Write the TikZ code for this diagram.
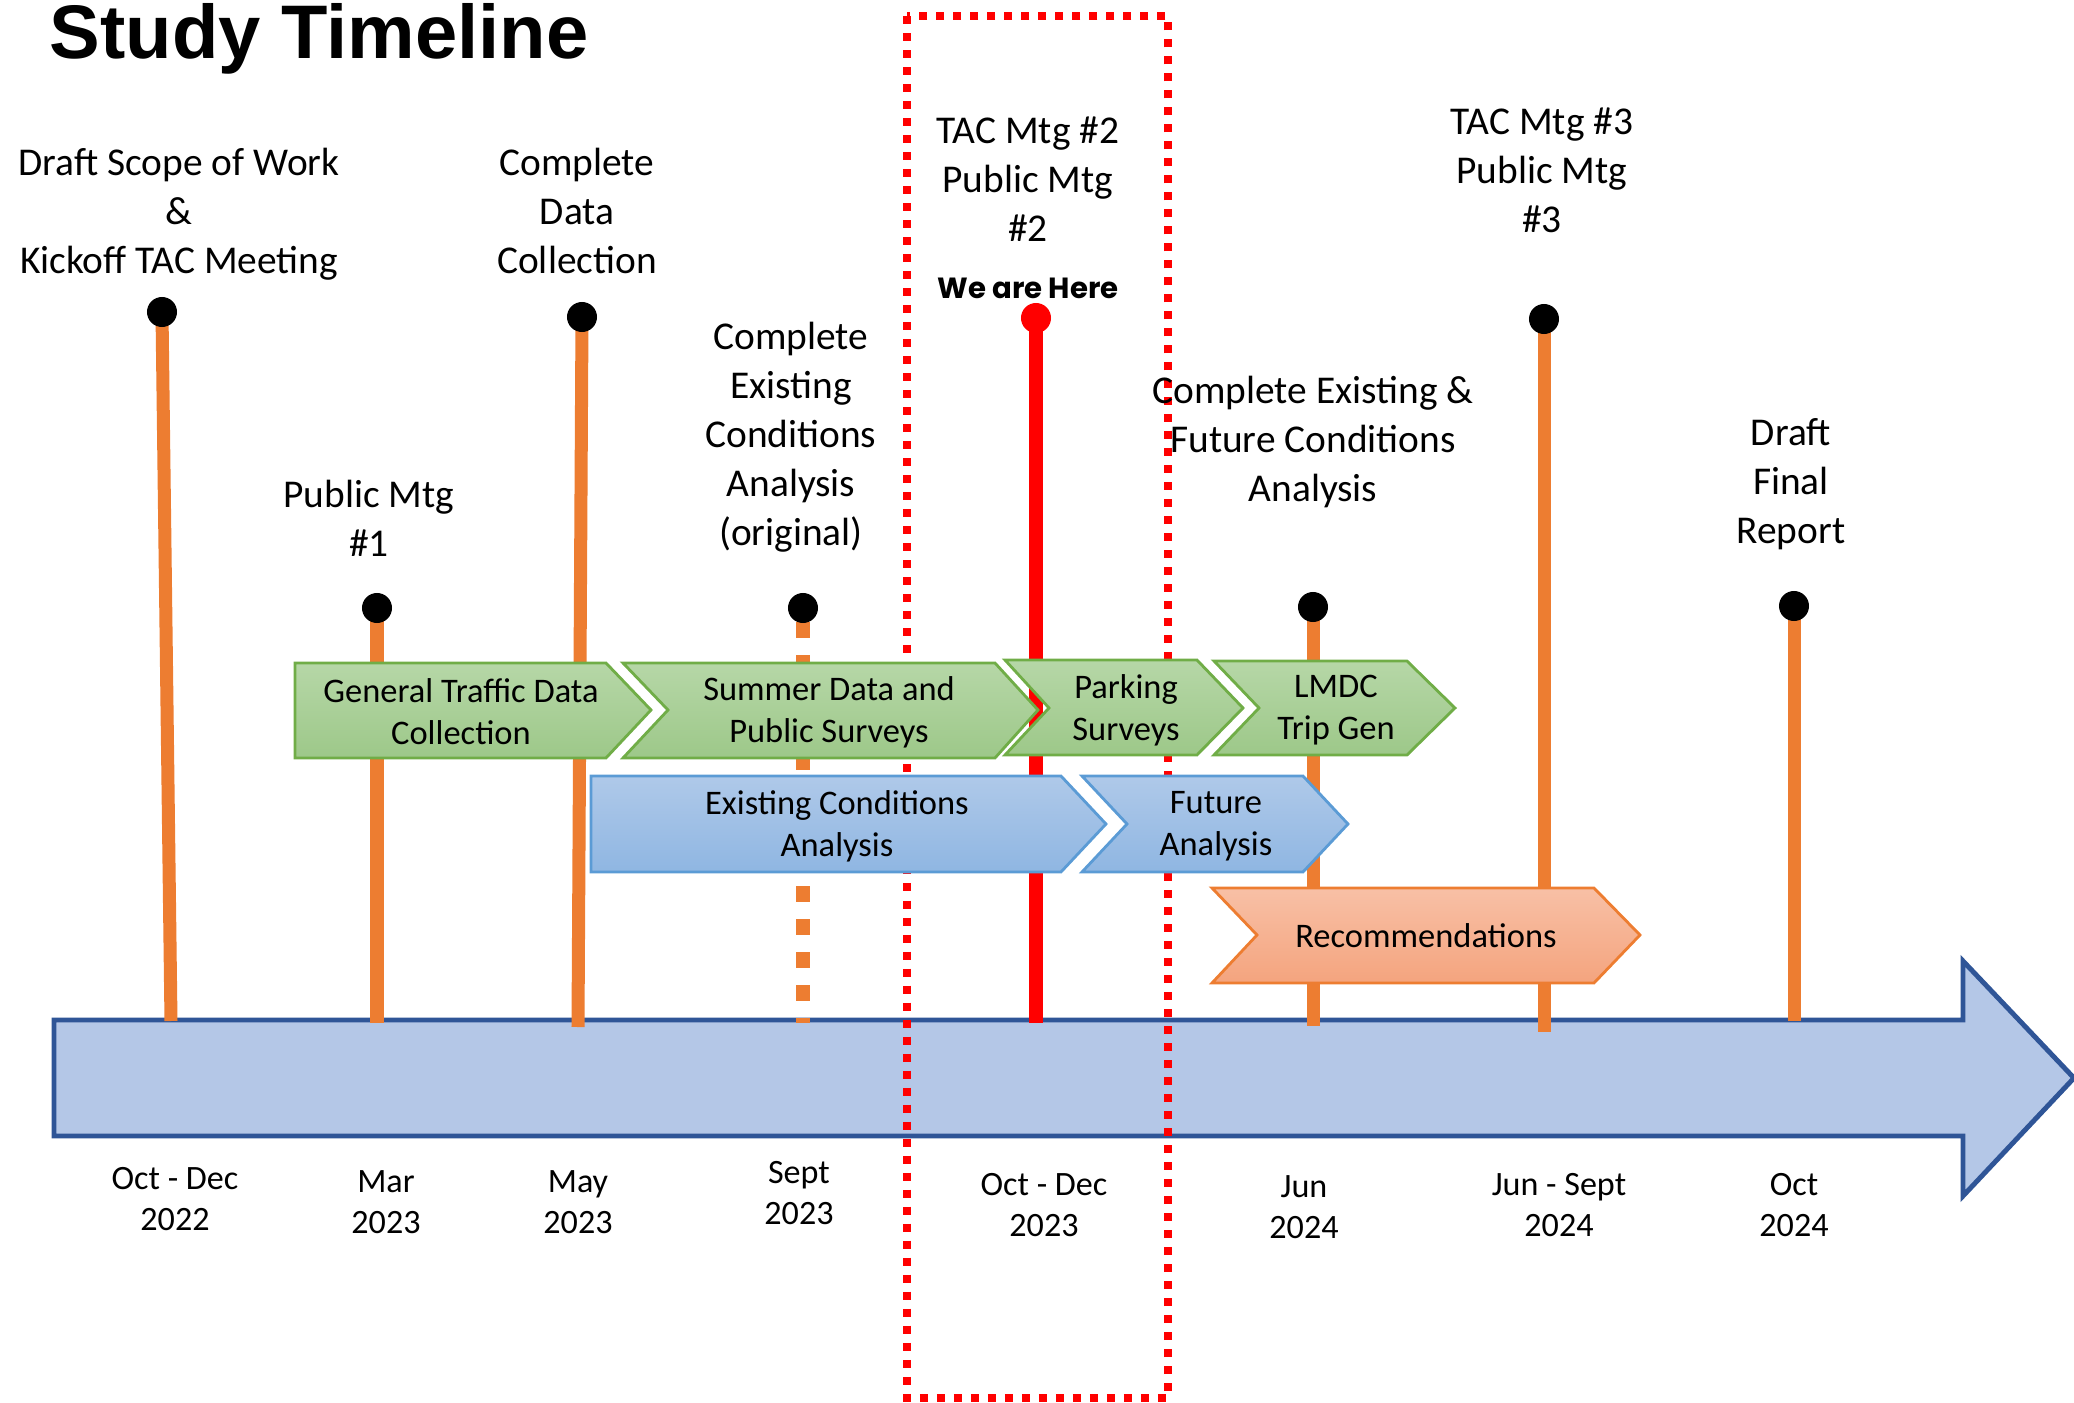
\documentclass[tikz,border=0pt]{standalone}
\usepackage{fontspec}
\setmainfont{Carlito}
\newfontfamily\titlefont{Liberation Sans}
\newfontfamily\herefont{Poppins}
\usetikzlibrary{calc}

\definecolor{tlblue}{RGB}{180,199,231}
\definecolor{tledge}{RGB}{47,85,151}
\definecolor{stemorange}{RGB}{237,125,49}
\definecolor{grtop}{RGB}{182,215,167}
\definecolor{grbot}{RGB}{157,200,137}
\definecolor{gredge}{RGB}{112,173,71}
\definecolor{bltop}{RGB}{175,201,233}
\definecolor{blbot}{RGB}{143,182,226}
\definecolor{bledge}{RGB}{91,155,213}
\definecolor{ortop}{RGB}{248,192,166}
\definecolor{orbot}{RGB}{244,164,126}

\begin{document}
\begin{tikzpicture}[x=0.01cm,y=-0.01cm,
    stemline/.style={color=stemorange,line width=0.13cm},
    dot/.style={circle,fill=black,inner sep=0pt,minimum size=0.3cm},
    lbl/.style={align=center,font=\fontsize{11.2}{13.9}\selectfont},
    boxtxt/.style={align=center,font=\fontsize{9.8}{11.9}\selectfont},
    datetxt/.style={align=center,font=\fontsize{9.7}{11.6}\selectfont},
    greenbox/.style={draw=gredge,line width=0.8pt,top color=grtop,bottom color=grbot},
    bluebox/.style={draw=bledge,line width=0.8pt,top color=bltop,bottom color=blbot},
    orangebox/.style={draw=stemorange,line width=0.8pt,top color=ortop,bottom color=orbot}]
        \useasboundingbox (0,0) rectangle (2074,1403);

        % timeline arrow
        \draw[fill=tlblue,draw=tledge,line width=1.4pt]
        (54,1020) -- (1963,1020) -- (1963,961) -- (2074,1078) -- (1963,1196)
        -- (1963,1136) -- (54,1136) -- cycle;

        % we are here box
        \draw[red,line width=2pt,dash pattern=on 0.08cm off 0.09cm]
        (907,16) rectangle (1168,1398);

        % stems
        \coordinate (p1) at (162,312);  \coordinate (b1) at (171,1021);
        \coordinate (p2) at (377,608);  \coordinate (b2) at (377,1023);
        \coordinate (p3) at (582,317);  \coordinate (b3) at (578,1027);
        \coordinate (p4) at (803,608);  \coordinate (b4) at (803,1023);
        \coordinate (p5) at (1036,318); \coordinate (b5) at (1036,1023);
        \coordinate (p6) at (1313,607); \coordinate (b6) at (1313,1026);
        \coordinate (p7) at (1544,319); \coordinate (b7) at (1544,1032);
        \coordinate (p8) at (1794,606); \coordinate (b8) at (1794,1021);

        \foreach \i in {1,2,3,6,7,8}
            \draw[stemline] (p\i) -- (b\i);
        \draw[stemline,dash pattern=on 0.16cm off 0.17cm] ($(p4)+(0,14)$) -- (b4);
        \draw[red,line width=0.14cm] (p5) -- (b5);

        % task arrows
        \draw[greenbox] (295,663) -- (606,663) -- (651,710) -- (606,758) -- (295,758) -- cycle;
        \draw[greenbox] (623,663) -- (995,663) -- (1038,710) -- (995,758) -- (623,758) -- (668,710) -- cycle;
        \draw[greenbox] (1005,660) -- (1197,660) -- (1243,708) -- (1197,755) -- (1005,755) -- (1049,708) -- cycle;
        \draw[greenbox] (1214,661) -- (1407,661) -- (1455,708) -- (1407,755) -- (1214,755) -- (1259,708) -- cycle;
        \draw[bluebox] (591,776) -- (1061,776) -- (1106,824) -- (1061,872) -- (591,872) -- cycle;
        \draw[bluebox] (1082,776) -- (1303,776) -- (1348,824) -- (1303,872) -- (1082,872) -- (1127,824) -- cycle;
        \draw[orangebox] (1212,888) -- (1594,888) -- (1640,935) -- (1594,983) -- (1212,983) -- (1257,935) -- cycle;

        \node[boxtxt] (traffic) at (461,712) {General Traffic Data\\Collection};
        \node[boxtxt] (summer) at (829,712) {Summer Data and\\Public Surveys};
        \node[boxtxt] (parking) at (1126,710) {Parking\\Surveys};
        \node[boxtxt] (lmdc) at (1336,710) {LMDC\\Trip Gen};
        \node[boxtxt] (existing) at (837,826) {Existing Conditions\\Analysis};
        \node[boxtxt] (future) at (1216,826) {Future\\Analysis};
        \node[boxtxt] (recom) at (1426,936) {Recommendations};

        % dots
        \foreach \i in {1,2,3,4,6,7,8}
            \node[dot] (d\i) at (p\i) {};
        \node[dot,fill=red] (d5) at (p5) {};

        % milestone labels
        \node[anchor=base west,font=\titlefont\bfseries\fontsize{21.6}{24}\selectfont,inner sep=0pt]
            (title) at (49,58) {Study Timeline};
        \node[lbl] (scope) at (179,214) {Draft Scope of Work\\\&\\Kickoff TAC Meeting};
        \node[lbl] (pub1) at (369,518) {Public Mtg\\\#1};
        \node[lbl] (datacol) at (577,211) {Complete\\Data\\Collection};
        \node[lbl] (exorig) at (791,437) {Complete\\Existing\\Conditions\\Analysis\\(original)};
        \node[lbl] (tac2) at (1028,179) {TAC Mtg \#2\\Public Mtg\\\#2};
        \node[font=\herefont\bfseries\fontsize{8.3}{10}\selectfont] (here) at (1028,288) {We are Here};
        \node[lbl] (exfut) at (1313,442) {Complete Existing \&\\Future Conditions\\Analysis};
        \node[lbl] (tac3) at (1542,170) {TAC Mtg \#3\\Public Mtg\\\#3};
        \node[lbl] (final) at (1791,484) {Draft\\Final\\Report};

        % dates
        \node[datetxt] (t1) at (175,1199) {Oct - Dec\\2022};
        \node[datetxt] (t2) at (386,1202) {Mar\\2023};
        \node[datetxt] (t3) at (578,1202) {May\\2023};
        \node[datetxt] (t4) at (799,1193) {Sept\\2023};
        \node[datetxt] (t5) at (1044,1205) {Oct - Dec\\2023};
        \node[datetxt] (t6) at (1304,1207) {Jun\\2024};
        \node[datetxt] (t7) at (1559,1205) {Jun - Sept\\2024};
        \node[datetxt] (t8) at (1794,1205) {Oct\\2024};
    \end{tikzpicture}
\end{document}
